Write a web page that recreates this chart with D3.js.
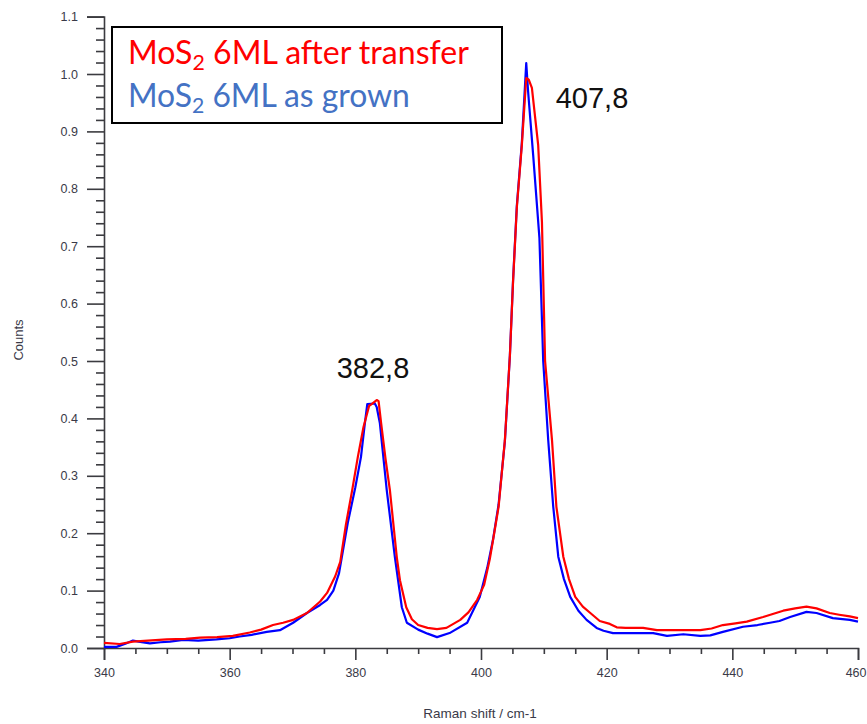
<!DOCTYPE html>
<html>
<head>
<meta charset="utf-8">
<script src="https://cdn.jsdelivr.net/npm/d3@7"></script>
<style>
  html, body { margin: 0; padding: 0; background: #fff; }
  svg { display: block; }
</style>
</head>
<body>
<svg id="chart" width="867" height="724"></svg>
<script>
// ---- Data ----
const redShift = [340, 342.5, 344.6, 347, 350, 353, 355.3, 358, 360.5, 363.2, 365, 366.9, 368.5, 370.1, 372.3, 374.4, 375.5, 376.8, 377.6, 378.5, 379.5, 380.4, 381.3, 382.2, 382.6, 383.4, 383.7, 384.1, 384.8, 385.5, 386.6, 387.1, 388.1, 389, 390, 391.5, 393, 394.5, 396.7, 398, 399.4, 400.5, 401.4, 402.1, 402.8, 403.8, 404.6, 405.1, 405.7, 406.5, 407.2, 407.6, 408.1, 409.1, 409.7, 410.2, 411.3, 412.0, 413.1, 414, 415, 416.2, 417.4, 418.9, 420.5, 421.6, 423, 425.8, 428, 431, 434.9, 436.7, 438.5, 440.5, 442.3, 444.9, 448.1, 450, 451.8, 453.4, 455.5, 457, 458.7, 460];
const redCounts = [0.009, 0.007, 0.011, 0.013, 0.015, 0.016, 0.018, 0.019, 0.021, 0.027, 0.032, 0.040, 0.044, 0.049, 0.061, 0.081, 0.096, 0.125, 0.15, 0.215, 0.275, 0.333, 0.385, 0.422, 0.425, 0.432, 0.43, 0.392, 0.33, 0.275, 0.158, 0.118, 0.071, 0.05, 0.040, 0.035, 0.033, 0.035, 0.049, 0.062, 0.084, 0.11, 0.155, 0.2, 0.246, 0.362, 0.51, 0.638, 0.767, 0.876, 0.993, 0.99, 0.976, 0.876, 0.742, 0.50, 0.362, 0.246, 0.159, 0.12, 0.089, 0.072, 0.061, 0.047, 0.042, 0.036, 0.035, 0.035, 0.031, 0.031, 0.031, 0.034, 0.040, 0.043, 0.046, 0.054, 0.065, 0.069, 0.072, 0.069, 0.061, 0.058, 0.055, 0.052];

const blueShift = [340, 342, 343.5, 344.6, 345.5, 347.3, 349, 350.5, 352.6, 355, 357.9, 360, 361.6, 363.5, 365.9, 368, 370.1, 372.3, 374.4, 375.5, 376.5, 377.4, 378.8, 380, 380.9, 381.5, 381.9, 383.1, 383.4, 383.9, 385.0, 386.3, 387.4, 388.2, 390, 391.5, 393, 395, 397.8, 399.8, 401, 401.9, 402.8, 403.8, 404.6, 405.1, 405.7, 406.5, 407.2, 407.5, 408.3, 409.3, 409.9, 410.7, 411.5, 412.3, 413.2, 414.2, 415.5, 416.8, 418.4, 419.5, 421, 424, 427.4, 429.6, 432.2, 434.9, 436.5, 438.5, 441.7, 444, 446, 447.5, 449.2, 451.8, 453.4, 456, 458.7, 460];
const blueCounts = [0.002, 0.002, 0.008, 0.013, 0.011, 0.008, 0.010, 0.011, 0.014, 0.013, 0.015, 0.017, 0.020, 0.023, 0.028, 0.031, 0.044, 0.061, 0.075, 0.084, 0.10, 0.13, 0.218, 0.28, 0.333, 0.39, 0.425, 0.426, 0.42, 0.392, 0.275, 0.158, 0.071, 0.044, 0.032, 0.025, 0.019, 0.026, 0.044, 0.089, 0.14, 0.188, 0.25, 0.36, 0.51, 0.64, 0.77, 0.88, 1.019, 0.969, 0.859, 0.714, 0.50, 0.362, 0.246, 0.159, 0.12, 0.089, 0.065, 0.049, 0.035, 0.030, 0.026, 0.026, 0.026, 0.021, 0.024, 0.021, 0.022, 0.028, 0.037, 0.040, 0.044, 0.047, 0.054, 0.063, 0.061, 0.052, 0.049, 0.046];

const xMajorTicks = [340, 360, 380, 400, 420, 440, 460];
const yMajorTicks = [0.0, 0.1, 0.2, 0.3, 0.4, 0.5, 0.6, 0.7, 0.8, 0.9, 1.0, 1.1];
const legendLabels = ["after transfer", "as grown"];
const peakLabels = [{shift: 382.8, counts: 0.43, text: "382,8"}, {shift: 407.8, counts: 1.0, text: "407,8"}];

// ---- Drawing ----
const svg = d3.select("#chart");
const axisColor = "#3b3b40";

const x = d3.scaleLinear().domain([340, 460]).range([104, 858]);
const y = d3.scaleLinear().domain([0, 1.1]).range([648, 16.6]);

// minor ticks
const xMinor = d3.range(340, 460.01, 5).filter(v => !xMajorTicks.includes(v));
const yMinor = d3.range(0, 110.01, 2).map(v => v / 100).filter(v => Math.round(v * 100) % 10 !== 0);

const xAxisMinor = d3.axisBottom(x).tickValues(xMinor).tickSize(6).tickFormat("");
const xAxis = d3.axisBottom(x).tickValues(xMajorTicks).tickSize(12).tickPadding(8).tickFormat(d3.format("d"));
const yAxisMinor = d3.axisLeft(y).tickValues(yMinor).tickSize(8).tickFormat("");
const yAxis = d3.axisLeft(y).tickValues(yMajorTicks).tickSize(17).tickPadding(9).tickFormat(d3.format(".1f"));

function styleAxis(g) {
  g.selectAll("path, line").attr("stroke", axisColor).attr("stroke-width", 1.6);
  g.selectAll("text").attr("fill", "#3a3a48").attr("font-family", "'Liberation Sans', Arial, sans-serif").attr("font-size", 12.5);
}

svg.append("g").attr("transform", "translate(0,648)").call(xAxisMinor).call(styleAxis).select(".domain").remove();
const gx = svg.append("g").attr("transform", "translate(0,648)").call(xAxis).call(styleAxis);
// keep the last tick label inside the window
gx.selectAll(".tick text").filter(d => d === 460).attr("text-anchor", "end").attr("dx", 8);
svg.append("g").attr("transform", "translate(104,0)").call(yAxisMinor).call(styleAxis).select(".domain").remove();
svg.append("g").attr("transform", "translate(104,0)").call(yAxis).call(styleAxis);

// axis titles
svg.append("text")
  .attr("x", 480).attr("y", 718)
  .attr("text-anchor", "middle")
  .attr("font-family", "'Liberation Sans', Arial, sans-serif")
  .attr("font-size", 13.5).attr("fill", "#3a3a48")
  .text("Raman shift / cm-1");
svg.append("text")
  .attr("transform", "translate(23,340) rotate(-90)")
  .attr("text-anchor", "middle")
  .attr("font-family", "'Liberation Sans', Arial, sans-serif")
  .attr("font-size", 13).attr("fill", "#3a3a48")
  .text("Counts");

// lines
const line = d3.line().x(d => x(d[0])).y(d => y(d[1]));
const blueData = blueShift.map((s, i) => [s, blueCounts[i]]);
const redData = redShift.map((s, i) => [s, redCounts[i]]);

svg.append("path").datum(blueData).attr("d", line)
  .attr("fill", "none").attr("stroke", "#0000ff").attr("stroke-width", 2.2).attr("stroke-linejoin", "round");
svg.append("path").datum(redData).attr("d", line)
  .attr("fill", "none").attr("stroke", "#ff0000").attr("stroke-width", 2.2).attr("stroke-linejoin", "round");

// peak annotations
const peakPos = [[373, 378], [592, 108]];
peakLabels.forEach((p, i) => {
  svg.append("text")
    .attr("x", peakPos[i][0]).attr("y", peakPos[i][1])
    .attr("text-anchor", "middle")
    .attr("font-family", "'Liberation Sans', Arial, sans-serif")
    .attr("font-size", 29).attr("fill", "#111")
    .text(p.text);
});

// legend
svg.append("rect").attr("x", 112).attr("y", 27).attr("width", 390).attr("height", 96)
  .attr("fill", "#fff").attr("stroke", "#000").attr("stroke-width", 2);

const legendColors = ["#ff0000", "#4472c4"];
const legendBaselines = [64, 107];
const legendWidths = [341, 282];
legendLabels.forEach((lab, i) => {
  const t = svg.append("text")
    .attr("x", 128).attr("y", legendBaselines[i])
    .attr("font-family", "Lato, 'Open Sans', sans-serif")
    .attr("font-size", 30).attr("fill", legendColors[i]);
  t.append("tspan").text("MoS");
  t.append("tspan").attr("class", "sub").attr("dy", 6).attr("font-size", 20).text("2");
  t.append("tspan").attr("dy", -6).text("\u00a06ML " + lab);
  const w = t.node().getComputedTextLength();
  const k = legendWidths[i] / w;
  t.attr("font-size", 30 * k);
  t.select(".sub").attr("font-size", 20 * k);
});
</script>
</body>
</html>
